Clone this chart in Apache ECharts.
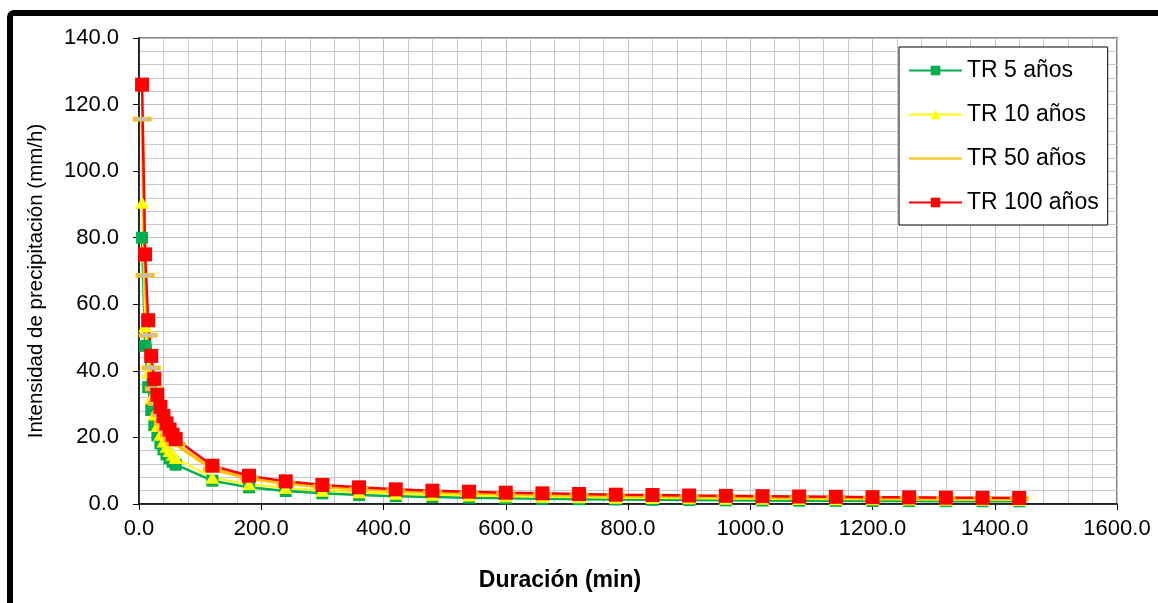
<!DOCTYPE html>
<html>
<head>
<meta charset="utf-8">
<title>Curvas Intensidad-Duración-Frecuencia</title>
<script src="https://cdn.jsdelivr.net/npm/echarts@6/dist/echarts.min.js"></script>
<style>
  html, body { margin: 0; padding: 0; background: #ffffff; overflow: hidden; }
  #chart { position: absolute; left: 0; top: 0; width: 1158px; height: 603px; }
  #frame {
    position: absolute; left: 7px; top: 10px; width: 1220px; height: 660px;
    border: 6px solid #000; border-top-left-radius: 7px; pointer-events: none;
  }
</style>
</head>
<body>
<div id="chart"></div>
<div id="frame"></div>
<script>
// Duración de la lluvia (min)
const duraciones = [5, 10, 15, 20, 25, 30, 35, 40, 45, 50, 55, 60,
  120, 180, 240, 300, 360, 420, 480, 540, 600, 660, 720, 780, 840,
  900, 960, 1020, 1080, 1140, 1200, 1260, 1320, 1380, 1440];

// Intensidad (mm/h) por periodo de retorno
const tr5 = [80.0, 47.5, 35.1, 28.2, 23.7, 20.6, 18.2, 16.4, 14.9, 13.7, 12.7, 11.8,
  7.0, 5.0, 3.9, 3.2, 2.7, 2.35, 2.1, 1.9, 1.7, 1.55, 1.45, 1.35, 1.25,
  1.2, 1.1, 1.05, 1.0, 0.95, 0.9, 0.88, 0.85, 0.82, 0.8];
const tr10 = [90.5, 53.5, 39.5, 31.8, 26.9, 23.4, 20.8, 18.8, 17.2, 15.9, 14.8, 13.8,
  7.9, 5.9, 4.8, 4.0, 3.5, 3.1, 2.8, 2.55, 2.35, 2.2, 2.05, 1.9, 1.8,
  1.7, 1.6, 1.55, 1.5, 1.45, 1.4, 1.35, 1.3, 1.25, 1.2];
const tr50 = [115.6, 68.7, 50.7, 40.9, 34.6, 30.2, 26.9, 24.3, 22.3, 20.6, 19.1, 17.9,
  10.5, 7.7, 6.2, 5.2, 4.5, 4.0, 3.6, 3.3, 3.05, 2.85, 2.65, 2.5, 2.35,
  2.25, 2.15, 2.05, 1.95, 1.9, 1.8, 1.75, 1.7, 1.65, 1.6];
const tr100 = [126.0, 75.0, 55.2, 44.5, 37.6, 32.8, 29.2, 26.4, 24.2, 22.4, 20.8, 19.5,
  11.5, 8.5, 6.8, 5.7, 5.0, 4.4, 4.0, 3.7, 3.4, 3.2, 3.0, 2.8, 2.7,
  2.55, 2.45, 2.35, 2.25, 2.15, 2.05, 2.0, 1.9, 1.85, 1.8];

const nombres = ['TR 5 años', 'TR 10 años', 'TR 50 años', 'TR 100 años'];
const tituloX = 'Duración (min)';
const tituloY = 'Intensidad de precipitación (mm/h)';

const pares = (ys) => duraciones.map((d, i) => [d, ys[i]]);
const fmt = (v) => Number(v).toFixed(1);
const fuente = 'Liberation Sans, Arial, sans-serif';

const chart = echarts.init(document.getElementById('chart'), null, { renderer: 'canvas' });

chart.setOption({
  backgroundColor: '#ffffff',
  animation: false,
  textStyle: { fontFamily: fuente },
  grid: {
    left: 139, right: 41, top: 38, bottom: 99,
    show: true, borderColor: '#808080', borderWidth: 2, backgroundColor: 'transparent'
  },
  // Títulos de los ejes
  graphic: [
    {
      type: 'text', x: 560, y: 581, silent: true,
      style: {
        text: tituloX, font: 'bold 23px ' + fuente, fill: '#000',
        textAlign: 'center', textVerticalAlign: 'middle'
      }
    },
    {
      type: 'text', x: 36, y: 281, rotation: Math.PI / 2, silent: true,
      style: {
        text: tituloY, font: '20.5px ' + fuente, fill: '#000',
        textAlign: 'center', textVerticalAlign: 'middle'
      }
    }
  ],
  legend: {
    orient: 'vertical',
    left: 899, top: 47,
    padding: [12, 9, 11, 9],
    itemGap: 21,
    itemWidth: 53,
    itemHeight: 12,
    backgroundColor: '#ffffff',
    borderColor: '#000000',
    borderWidth: 1,
    textStyle: { fontSize: 23, lineHeight: 22, color: '#000', fontFamily: fuente },
    data: [
      nombres[0],
      nombres[1],
      { name: nombres[2], itemStyle: { opacity: 0 } },
      nombres[3]
    ]
  },
  xAxis: {
    type: 'value', min: 0, max: 1600, interval: 200,
    axisLine: { show: true, onZero: false, lineStyle: { color: '#000', width: 1.5 } },
    axisTick: { show: true, length: 6, lineStyle: { color: '#000' } },
    axisLabel: { formatter: fmt, fontSize: 22, color: '#000', margin: 14, fontFamily: fuente },
    splitLine: { show: true, lineStyle: { color: '#c0c0c0', width: 1 } },
    minorTick: { show: false, splitNumber: 5 },
    minorSplitLine: { show: true, lineStyle: { color: '#c8c8c8', width: 1 } }
  },
  yAxis: {
    type: 'value', min: 0, max: 140, interval: 20,
    axisLine: { show: true, onZero: false, lineStyle: { color: '#000', width: 1.5 } },
    axisTick: { show: true, length: 6, lineStyle: { color: '#000' } },
    axisLabel: { formatter: fmt, fontSize: 22, color: '#000', margin: 20, fontFamily: fuente },
    splitLine: { show: true, lineStyle: { color: '#c0c0c0', width: 1 } },
    minorTick: { show: false, splitNumber: 5 },
    minorSplitLine: { show: true, lineStyle: { color: '#c8c8c8', width: 1 } }
  },
  series: [
    {
      name: nombres[0], type: 'line', data: pares(tr5),
      symbol: 'rect', symbolSize: 12,
      lineStyle: { color: '#00B050', width: 2.5 },
      itemStyle: { color: '#00B050' }
    },
    {
      name: nombres[1], type: 'line', data: pares(tr10),
      symbol: 'triangle', symbolSize: [14, 12],
      lineStyle: { color: '#FFFF00', width: 2 },
      itemStyle: { color: '#FFFF00' }
    },
    {
      name: nombres[2], type: 'line', data: pares(tr50),
      symbol: 'rect', symbolSize: [16, 4],
      lineStyle: { color: '#FFC000', width: 3.5 },
      itemStyle: { color: '#C0C0C0', borderColor: '#FFC000', borderWidth: 1.5 }
    },
    {
      name: nombres[3], type: 'line', data: pares(tr100),
      symbol: 'rect', symbolSize: 14,
      lineStyle: { color: '#FF0000', width: 2.5 },
      itemStyle: { color: '#FF0000' }
    }
  ]
});
</script>
</body>
</html>
